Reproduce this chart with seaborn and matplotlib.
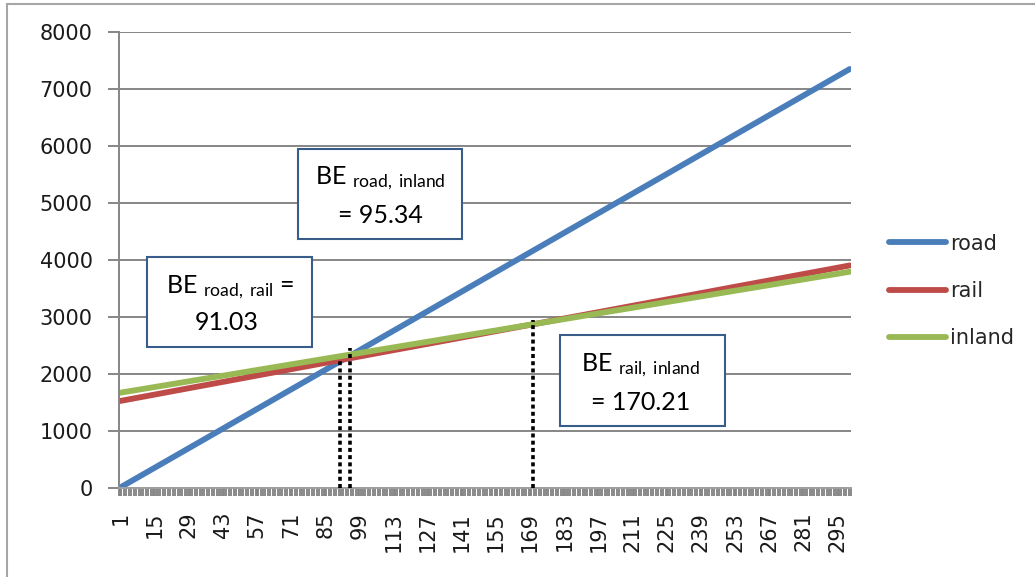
import numpy as np
import pandas as pd
import matplotlib
matplotlib.use("Agg")
import matplotlib.pyplot as plt
from matplotlib.patches import Rectangle
from matplotlib.lines import Line2D
import seaborn as sns

# Transport cost by distance category for each mode
distance = [1, 15, 29, 43, 57, 71, 85, 99, 113, 127, 141, 155, 169, 183,
            197, 211, 225, 239, 253, 267, 281, 295, 300]
road = [0, 344, 688, 1032, 1377, 1721, 2065, 2409, 2753, 3097, 3441, 3786,
        4130, 4474, 4818, 5162, 5506, 5851, 6195, 6539, 6883, 7227, 7350]
rail = [1520, 1631, 1743, 1854, 1966, 2077, 2189, 2300, 2412, 2523, 2634,
        2746, 2857, 2969, 3080, 3192, 3303, 3414, 3526, 3637, 3749, 3860, 3900]
inland = [1665, 1764, 1864, 1963, 2063, 2162, 2262, 2361, 2461, 2560, 2660,
          2759, 2859, 2958, 3058, 3157, 3257, 3356, 3456, 3555, 3655, 3754, 3790]

modes = ["road", "rail", "inland"]
colors = ["#4A7EBB", "#BE4B48", "#98B954"]

tick_labels = list(range(1, 300, 14))
y_ticks = list(range(0, 8001, 1000))

# Break-even points between pairs of modes
be_pairs = ["road, rail", "road, inland", "rail, inland"]
be_values = [91.03, 95.34, 170.21]
be_heights = [2250, 2450, 2950]

sns.set_theme(style="white")
plt.rcParams["font.family"] = ["DejaVu Sans"]
plt.rcParams["mathtext.fontset"] = "custom"
plt.rcParams["mathtext.rm"] = "Lato"
plt.rcParams["mathtext.it"] = "Lato:italic"

W, H = 1035, 577
fig = plt.figure(figsize=(W / 100, H / 100), dpi=100)
fig.patch.set_facecolor("white")


def fx(px):
    return px / W


def fy(py):
    return 1 - py / H


ax = fig.add_axes([fx(119), fy(487.5), (851 - 119) / W, (487.5 - 32) / H])

df = pd.DataFrame({
    "distance": distance * 3,
    "cost": road + rail + inland,
    "mode": [m for m in modes for _ in distance],
})
sns.lineplot(data=df, x="distance", y="cost", hue="mode", hue_order=modes,
             palette=dict(zip(modes, colors)), linewidth=4.2, estimator=None,
             legend=False, ax=ax)

ax.set_xlim(0.5, 300.5)
ax.set_ylim(0, 8000)
ax.set_xlabel("")
ax.set_ylabel("")
ax.set_yticks(y_ticks)
ax.set_yticklabels([str(v) for v in y_ticks])
ax.set_xticks(tick_labels)
ax.set_xticklabels([str(v) for v in tick_labels])
ax.set_xticks(np.arange(0.5, 301, 1), minor=True)

grid_c = "#868686"
ax.yaxis.grid(True, color=grid_c, linewidth=1.4)
ax.xaxis.grid(False)
ax.set_axisbelow(True)
for side in ["top", "right"]:
    ax.spines[side].set_visible(False)
ax.spines["left"].set_color(grid_c)
ax.spines["left"].set_linewidth(1.4)
ax.spines["bottom"].set_color("#A0A0A0")
ax.spines["bottom"].set_linewidth(1.4)

ax.tick_params(axis="x", which="minor", bottom=True, length=5.5, width=1.35,
               color="#858585", direction="out")
ax.tick_params(axis="x", which="major", bottom=True, length=5.5, width=1.35,
               color="#858585", direction="out", labelrotation=90, pad=12,
               labelsize=15, labelcolor="#1A1A1A")
ax.tick_params(axis="y", which="major", left=True, length=8, width=1.4,
               color=grid_c, direction="out", pad=11, labelsize=15,
               labelcolor="#1A1A1A")

# Dotted markers at the break-even distances
ax.vlines(be_values, 0, be_heights, colors="black", linewidth=2.6,
          linestyles=[(0, (1.1, 0.9))], zorder=5)

# Labelled boxes for each break-even value
boxes = [(147, 257, 312, 347), (298, 149, 462, 239), (560, 335, 725, 426)]
line1_pos = [(230, 287), (380, 178), (641, 365)]
line2_pos = [(227, 323), (380, 216), (641, 402)]
for i, (pair, val) in enumerate(zip(be_pairs, be_values)):
    x0, y0, x1, y1 = boxes[i]
    fig.add_artist(Rectangle((fx(x0), fy(y1)), (x1 - x0) / W, (y1 - y0) / H,
                             transform=fig.transFigure, facecolor="white",
                             edgecolor="#385D8A", linewidth=1.5, zorder=4))
    sub = pair.replace(" ", r"\ ")
    if i == 0:
        t1 = r"BE $_{\mathrm{" + sub + r"}}$ ="
        t2 = f"{val:.2f}"
    else:
        t1 = r"BE $_{\mathrm{" + sub + r"}}$"
        t2 = f"= {val:.2f}"
    fig.text(fx(line1_pos[i][0]), fy(line1_pos[i][1]), t1, ha="center",
             va="center", fontsize=18, family="Lato", color="black", zorder=6)
    fig.text(fx(line2_pos[i][0]), fy(line2_pos[i][1]), t2, ha="center",
             va="center", fontsize=18, family="Lato", color="black", zorder=6)

handles = [Line2D([], [], color=c, linewidth=4.2) for c in colors]
fig.legend(handles, modes, loc="center left",
           bbox_to_anchor=(fx(889), fy(291)), frameon=False,
           handlelength=2.75, handletextpad=0.2, labelspacing=1.32,
           fontsize=15, borderpad=0, borderaxespad=0)

# Chart frame
fig.add_artist(Rectangle((fx(7), -0.1), 1.2, fy(4) + 0.1,
                         transform=fig.transFigure, fill=False,
                         edgecolor="#A6A6A6", linewidth=1.5))

fig.savefig("out.png", dpi=100)
